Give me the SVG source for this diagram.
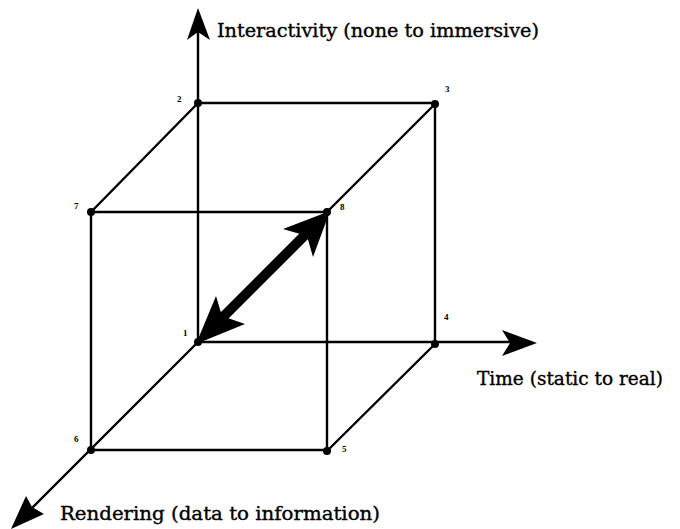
<svg xmlns="http://www.w3.org/2000/svg" width="680" height="529" viewBox="0 0 680 529">
<style>
.e{stroke:#000;stroke-width:2.4;fill:none;stroke-linecap:round}
.d{fill:#000}
.n{font-family:"Liberation Serif",serif;font-weight:bold;font-size:9px;fill:#000}
.t{font-family:"DejaVu Serif",serif;font-size:18px;fill:#000;stroke:#000;stroke-width:0.35}
.h{fill:#000;stroke:none}
</style>
<rect width="680" height="529" fill="#fff"/>
<g id="connectors">
<path class="e" d="M198,103 H435 M91,212 H327 M198,342 H530 M91,450 H327"/>
<path class="e" d="M198,342 V20 M435,104 V344 M91,212 V450 M327,212 V451"/>
<path class="e" d="M198,103 L91,212 M435,104 L327,212 M435,344 L327,451 M198,342 L20,520"/>
<polygon class="h" points="198,8 210,40 198,32 187,40"/>
<polygon class="h" points="537,343 502,330 510,343 502,356"/>
<polygon class="h" points="11,529 26,496 32,507 44,514"/>
<path d="M212,328 L314,226" stroke="#000" stroke-width="10" fill="none"/>
<polygon class="h" points="330,211 313,257 307,236 283,229"/>
<polygon class="h" points="196,344 216,296 222,316 245,324"/>
</g>
<g id="v1"><circle class="d" cx="198" cy="342" r="4"/><text class="n" x="183" y="336">1</text></g>
<g id="v2"><circle class="d" cx="198" cy="103" r="4"/><text class="n" x="177" y="102">2</text></g>
<g id="v3"><circle class="d" cx="435" cy="104" r="4"/><text class="n" x="445" y="92">3</text></g>
<g id="v4"><circle class="d" cx="435" cy="344" r="4"/><text class="n" x="444" y="320">4</text></g>
<g id="v5"><circle class="d" cx="327" cy="451" r="4"/><text class="n" x="342" y="452">5</text></g>
<g id="v6"><circle class="d" cx="91" cy="450" r="4"/><text class="n" x="74" y="442">6</text></g>
<g id="v7"><circle class="d" cx="91" cy="212" r="4"/><text class="n" x="74" y="209">7</text></g>
<g id="v8"><circle class="d" cx="327" cy="212" r="4"/><text class="n" x="340" y="210">8</text></g>
<g id="labels">
<text class="t" x="217" y="37" textLength="322" lengthAdjust="spacingAndGlyphs">Interactivity (none to immersive)</text>
<text class="t" x="477" y="385" textLength="186" lengthAdjust="spacingAndGlyphs">Time (static to real)</text>
<text class="t" x="60" y="520" textLength="320" lengthAdjust="spacingAndGlyphs">Rendering (data to information)</text>
</g>
</svg>
